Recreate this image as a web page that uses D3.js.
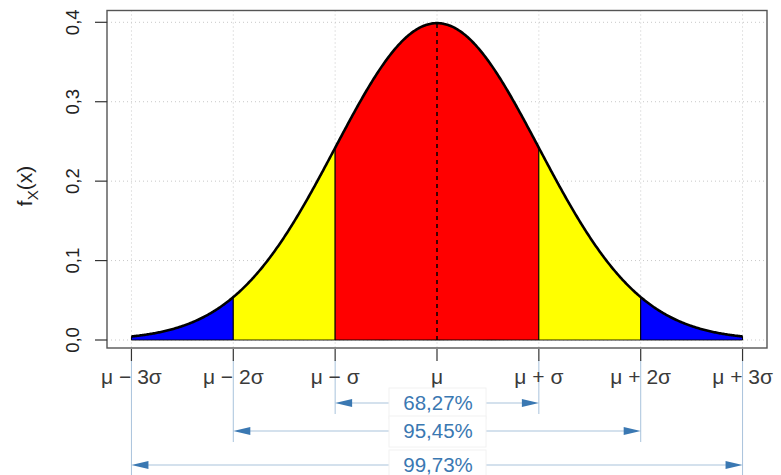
<!DOCTYPE html>
<html>
<head>
<meta charset="utf-8">
<script src="https://cdn.jsdelivr.net/npm/d3@7"></script>
<style>
  html, body { margin: 0; padding: 0; background: #fff; }
  svg { display: block; }
  text { font-family: "Liberation Sans", Arial, sans-serif; }
</style>
</head>
<body>
<svg id="chart" width="781" height="475"></svg>
<script>
// Standard normal density, x in units of sigma from the mean
const sigmaTicks = [-3, -2, -1, 0, 1, 2, 3];
const sigmaTickLabels = ["μ − 3σ", "μ − 2σ", "μ − σ", "μ", "μ + σ", "μ + 2σ", "μ + 3σ"];
const densityTicks = [0, 0.1, 0.2, 0.3, 0.4];
const densityTickLabels = ["0,0", "0,1", "0,2", "0,3", "0,4"];

// Shaded bands between these sigma limits
const bandStarts = [-3, -2, -1, 1, 2];
const bandEnds   = [-2, -1,  1, 2, 3];
const bandColors = ["#0000ff", "#ffff00", "#ff0000", "#ffff00", "#0000ff"];

// Coverage of the central intervals μ ± kσ
const coverageK = [1, 2, 3];
const coverageLabels = ["68,27%", "95,45%", "99,73%"];

const pdf = z => Math.exp(-z * z / 2) / Math.sqrt(2 * Math.PI);

const svg = d3.select("#chart");

const box = { left: 107, right: 767, top: 10.5, bottom: 348 };
const x = d3.scaleLinear().domain([-3.24, 3.24]).range([box.left, box.right]);
const y = d3.scaleLinear().domain([0, 0.4]).range([340, 22.3]);

// grid
const grid = svg.append("g").attr("stroke", "#c8c8c8").attr("stroke-width", 1)
  .attr("stroke-dasharray", "1,3");
grid.selectAll("line.v").data(sigmaTicks).join("line")
  .attr("x1", d => x(d)).attr("x2", d => x(d))
  .attr("y1", box.top).attr("y2", box.bottom);
grid.selectAll("line.h").data(densityTicks).join("line")
  .attr("y1", d => y(d)).attr("y2", d => y(d))
  .attr("x1", box.left).attr("x2", box.right);

// shaded bands under the curve
const bands = bandStarts.map((s, i) => ({ s, e: bandEnds[i], c: bandColors[i] }));
const area = d3.area().x(d => x(d)).y0(y(0)).y1(d => y(pdf(d)));
svg.append("g").selectAll("path").data(bands).join("path")
  .attr("d", b => area(d3.range(0, 201).map(j => b.s + (b.e - b.s) * j / 200)))
  .attr("fill", b => b.c)
  .attr("stroke", "#000").attr("stroke-width", 1);

// density curve
const zs = d3.range(0, 601).map(j => -3 + 6 * j / 600);
svg.append("path")
  .attr("d", d3.line().x(d => x(d)).y(d => y(pdf(d)))(zs))
  .attr("fill", "none").attr("stroke", "#000").attr("stroke-width", 2.6)
  .attr("stroke-linejoin", "round");

// mean line
svg.append("line")
  .attr("x1", x(0)).attr("x2", x(0))
  .attr("y1", y(0)).attr("y2", y(pdf(0)))
  .attr("stroke", "#000").attr("stroke-width", 1.5)
  .attr("stroke-dasharray", "4,4");

// plot frame
svg.append("rect")
  .attr("x", box.left).attr("y", box.top)
  .attr("width", box.right - box.left).attr("height", box.bottom - box.top)
  .attr("fill", "none").attr("stroke", "#555").attr("stroke-width", 1.4);

// y axis
const yAxis = svg.append("g");
yAxis.selectAll("line").data(densityTicks).join("line")
  .attr("x1", 95).attr("x2", box.left)
  .attr("y1", d => y(d)).attr("y2", d => y(d))
  .attr("stroke", "#333").attr("stroke-width", 1.2);
yAxis.selectAll("text").data(densityTicks).join("text")
  .attr("transform", d => `translate(79,${y(d)}) rotate(-90)`)
  .attr("text-anchor", "middle")
  .attr("font-size", 18.5).attr("fill", "#222")
  .text((d, i) => densityTickLabels[i]);

const yTitle = svg.append("text")
  .attr("transform", "translate(32,186) rotate(-90)")
  .attr("text-anchor", "middle")
  .attr("font-size", 21).attr("fill", "#222");
yTitle.append("tspan").text("f");
yTitle.append("tspan").attr("font-size", 15).attr("dy", 6).text("X");
yTitle.append("tspan").attr("dy", -6).text("(x)");

// x axis
const guideColor = "#a9c3dc";
const arrowColor = "#3a78b2";

// guide lines below the axis
const rowY = [403, 431, 465];
const guides = [];
coverageK.forEach((k, i) => {
  guides.push({ z: -k, y2: i === 2 ? 475 : rowY[i] + 11 });
  guides.push({ z: k, y2: i === 2 ? 475 : rowY[i] + 11 });
});
svg.append("g").selectAll("line").data(guides).join("line")
  .attr("x1", d => x(d.z)).attr("x2", d => x(d.z))
  .attr("y1", 360).attr("y2", d => d.y2)
  .attr("stroke", guideColor).attr("stroke-width", 1);

const xAxis = svg.append("g");
xAxis.selectAll("line").data(sigmaTicks).join("line")
  .attr("x1", d => x(d)).attr("x2", d => x(d))
  .attr("y1", 349).attr("y2", 361)
  .attr("stroke", "#333").attr("stroke-width", 1.2);
xAxis.selectAll("text").data(sigmaTicks).join("text")
  .attr("x", d => x(d)).attr("y", 384)
  .attr("text-anchor", "middle")
  .attr("font-size", 21).attr("fill", "#3a3a3a")
  .text((d, i) => sigmaTickLabels[i]);

// coverage arrows
const arrows = svg.append("g");
coverageK.forEach((k, i) => {
  const yy = rowY[i];
  const x0 = x(-k), x1 = x(k);
  arrows.append("line")
    .attr("x1", x0 + 10).attr("x2", x1 - 10)
    .attr("y1", yy).attr("y2", yy)
    .attr("stroke", guideColor).attr("stroke-width", 1.2);
  arrows.append("path")
    .attr("d", `M${x0},${yy} L${x0 + 17},${yy - 4} L${x0 + 17},${yy + 4} Z`)
    .attr("fill", arrowColor);
  arrows.append("path")
    .attr("d", `M${x1},${yy} L${x1 - 17},${yy - 4} L${x1 - 17},${yy + 4} Z`)
    .attr("fill", arrowColor);
  arrows.append("rect")
    .attr("x", x(0) - 48).attr("y", yy - 15)
    .attr("width", 97).attr("height", 31)
    .attr("fill", "#fff").attr("stroke", "#f2f2f2");
  arrows.append("text")
    .attr("x", x(0) + 1).attr("y", yy + 7)
    .attr("text-anchor", "middle")
    .attr("font-size", 20.5).attr("fill", arrowColor)
    .text(coverageLabels[i]);
});
</script>
</body>
</html>
